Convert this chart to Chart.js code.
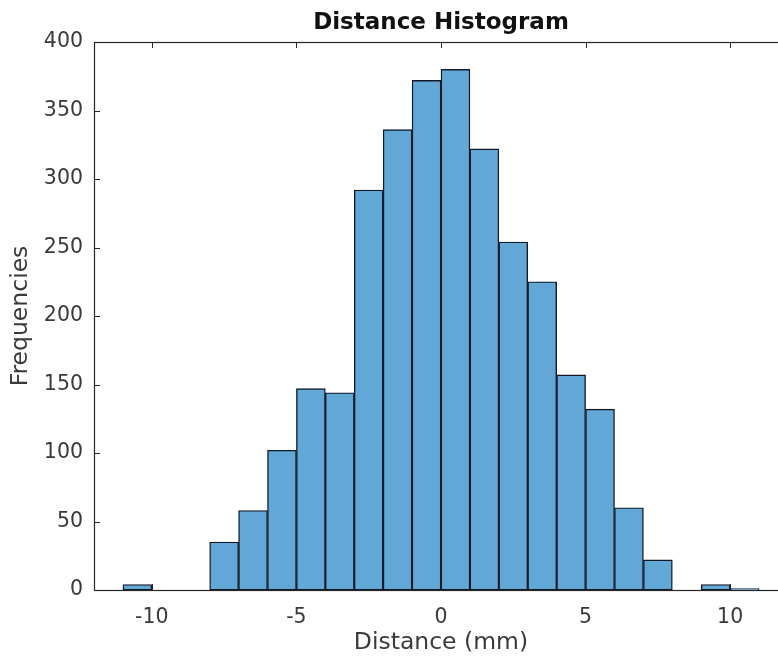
<!DOCTYPE html>
<html>
<head>
<meta charset="utf-8">
<script src="https://cdn.jsdelivr.net/npm/chart.js@4/dist/chart.umd.min.js"></script>
<style>
html,body{margin:0;padding:0;overflow:hidden;background:#ffffff;width:778px;height:657px}
canvas{display:block}
</style>
</head>
<body>
<canvas id="c" width="800" height="657" style="width:800px;height:657px"></canvas>
<script>
// ---- data ----
const binCenters = [-10.5,-9.5,-8.5,-7.5,-6.5,-5.5,-4.5,-3.5,-2.5,-1.5,-0.5,0.5,1.5,2.5,3.5,4.5,5.5,6.5,7.5,8.5,9.5,10.5];
const counts     = [4,0,0,35,58,102,147,144,292,336,372,380,322,254,225,157,132,60,22,0,4,1];
const xTickValues = [-10,-5,0,5,10];
const yTickValues = [0,50,100,150,200,250,300,350,400];
const chartTitle = 'Distance Histogram';
const xAxisTitle = 'Distance (mm)';
const yAxisTitle = 'Frequencies';

const axisColor = '#262626';
const FONT = "'DejaVu Sans', sans-serif";

const axesBox = {
  id: 'axesBox',
  beforeDatasetsDraw(chart) {
    const {ctx, chartArea: a, scales: {x, y}} = chart;
    ctx.save();
    ctx.strokeStyle = axisColor;
    ctx.lineWidth = 1;
    ctx.beginPath();
    x.ticks.forEach(t => {
      const px = Math.round(x.getPixelForValue(t.value)) + 0.5;
      ctx.moveTo(px, a.bottom); ctx.lineTo(px, a.bottom - 6);
      ctx.moveTo(px, a.top); ctx.lineTo(px, a.top + 6);
    });
    y.ticks.forEach(t => {
      const py = Math.round(y.getPixelForValue(t.value)) + 0.5;
      ctx.moveTo(a.left, py); ctx.lineTo(a.left + 6, py);
      ctx.moveTo(a.right, py); ctx.lineTo(a.right - 6, py);
    });
    ctx.stroke();
    ctx.restore();
  },
  afterDatasetsDraw(chart) {
    const {ctx, chartArea: a} = chart;
    ctx.save();
    ctx.strokeStyle = axisColor;
    ctx.lineWidth = 1.2;
    ctx.strokeRect(Math.round(a.left) + 0.5, Math.round(a.top) + 0.5,
                   Math.round(a.right - a.left), Math.round(a.bottom - a.top));
    ctx.restore();
  }
};

new Chart(document.getElementById('c'), {
  type: 'bar',
  data: {
    datasets: [{
      data: binCenters.map((c, i) => ({x: c, y: counts[i]})),
      backgroundColor: '#62a8d6',
      borderColor: '#121826',
      borderWidth: 1.4,
      borderSkipped: false,
      barPercentage: 1,
      categoryPercentage: 1
    }]
  },
  options: {
    responsive: false,
    animation: false,
    devicePixelRatio: 1,
    layout: {padding: {left: 0, right: 12, top: 0, bottom: 0}},
    plugins: {
      legend: {display: false},
      tooltip: {enabled: false},
      title: {
        display: true,
        text: chartTitle,
        fullSize: false,
        color: '#111111',
        font: {family: FONT, size: 23, weight: 'bold', lineHeight: 1.2},
        padding: {top: 9, bottom: 5.4}
      }
    },
    scales: {
      x: {
        type: 'linear',
        min: -12,
        max: 12,
        offset: false,
        grid: {display: false, drawTicks: false, offset: false},
        border: {display: false},
        afterBuildTicks: s => { s.ticks = xTickValues.map(v => ({value: v})); },
        afterFit: s => { s.height = 67; },
        ticks: {
          color: '#3a3a3a',
          font: {family: FONT, size: 20.5},
          padding: 15,
          maxRotation: 0,
          autoSkip: false
        },
        title: {
          display: true,
          text: xAxisTitle,
          color: '#3a3a3a',
          font: {family: FONT, size: 23.5},
          padding: {top: 0, bottom: 0}
        }
      },
      y: {
        min: 0,
        max: 400,
        grid: {display: false, drawTicks: false},
        border: {display: false},
        afterBuildTicks: s => { s.ticks = yTickValues.map(v => ({value: v})); },
        afterFit: s => { s.width = 94; },
        ticks: {
          color: '#3a3a3a',
          font: {family: FONT, size: 20.5},
          padding: 11
        },
        title: {
          display: true,
          text: yAxisTitle,
          color: '#3a3a3a',
          font: {family: FONT, size: 23.5},
          padding: {top: 7, bottom: 0}
        }
      }
    }
  },
  plugins: [axesBox]
});
</script>
</body>
</html>
